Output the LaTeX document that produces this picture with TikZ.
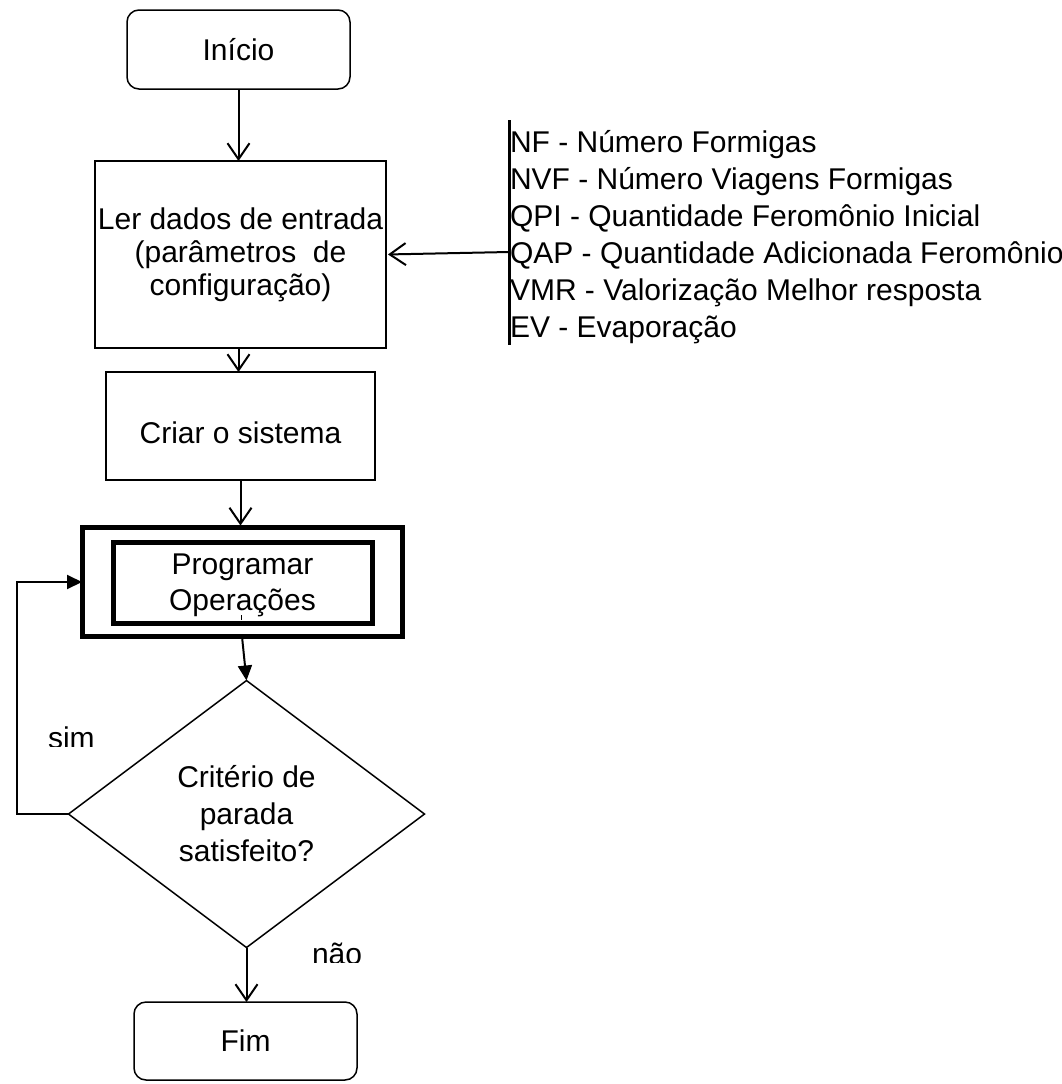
\documentclass[tikz,border=0pt]{standalone}
\usepackage{fontspec}
\setmainfont{Liberation Sans}
\usetikzlibrary{arrows.meta,shapes.geometric}
\begin{document}
\begin{tikzpicture}[x=1pt,y=-1pt,
  every node/.style={font=\fontsize{30}{29}\selectfont, inner sep=0pt, outer sep=0pt},
  box/.style={draw, line width=1.5pt, align=center},
  termbox/.style={box, rounded corners=12pt},
  heavybox/.style={draw, line width=5pt, align=center},
  openarrow/.style={line width=2pt, -{Straight Barb[length=16pt,width=22pt]}},
  filledarrow/.style={line width=2pt, -{Triangle[length=15pt,width=14pt]}},
  listtext/.style={anchor=base west},
  answer/.style={anchor=base west}
]
\useasboundingbox (0,0) rectangle (1062,1084);

% flowchart blocks
\node[termbox, minimum width=223pt, minimum height=79pt] (inicio) at (238.5,49.5) {Início};
\node[box, minimum width=291pt, minimum height=187pt, font=\fontsize{30}{33}\selectfont] (ler) at (240.5,254.5)
  {Ler dados de entrada\\(parâmetros\ \ de\\configuração)};
\node[box, minimum width=269pt, minimum height=108pt, text height=34pt, text depth=0pt] (criar) at (240.5,426) {Criar o sistema};
\node[heavybox, minimum width=320pt, minimum height=109pt] (outer) at (242,582) {};
\node[heavybox, minimum width=259pt, minimum height=81pt, font=\fontsize{30}{36}\selectfont] (inner) at (242.5,582.5)
  {\rule{0pt}{26pt}Programar\\Operações};
\node[draw, diamond, aspect=1.33, line width=1.5pt, minimum width=356pt, minimum height=267pt,
  align=center, font=\fontsize{30}{37}\selectfont] (dia) at (246.5,814)
  {Critério de\\parada\\satisfeito?};
\node[termbox, minimum width=223pt, minimum height=78pt] (fim) at (245.5,1041) {Fim};

% parameter list
\foreach \i/\t/\yy in {1/NF - Número Formigas/152,
                      2/NVF - Número Viagens Formigas/189,
                      3/QPI - Quantidade Feromônio Inicial/226,
                      4/QAP - Quantidade Adicionada Feromônio/263,
                      5/VMR - Valorização Melhor resposta/300,
                      6/EV - Evaporação/337}
  \node[listtext] (item\i) at (510,\yy) {\t};
\coordinate (brtop) at (509,120);
\coordinate (brbot) at (509,345);
\coordinate (qap) at (509,252);
\draw[line width=3pt] (brtop) -- (brbot);

% connectors
\draw[openarrow] (inicio.south) -- (inicio.south |- ler.north);
\draw[openarrow] ([xshift=-2pt]ler.south) -- ([xshift=-2pt]ler.south |- criar.north);
\draw[openarrow, shorten >=2pt] (criar.south) -- (criar.south |- outer.north);
\draw[openarrow, shorten >=2pt] (qap) -- (ler.east);
\draw[line width=1pt] ([xshift=-1pt]inner.south) ++(0,-3) -- ++(0,-5);
\draw[filledarrow] (outer.south) -- (dia.north);
\draw[filledarrow] (dia.west) -- ++(-52,0) |- (outer.west);
\draw[openarrow] (dia.south) -- (dia.south |- fim.north);

% branch labels
\begin{scope}
  \clip (0,0) rectangle (1062,746.5);
  \node[answer] (sim) at (48,748) {sim};
\end{scope}
\begin{scope}
  \clip (0,0) rectangle (1062,962.5);
  \node[answer] (nao) at (312,964) {não};
\end{scope}
\end{tikzpicture}
\end{document}
